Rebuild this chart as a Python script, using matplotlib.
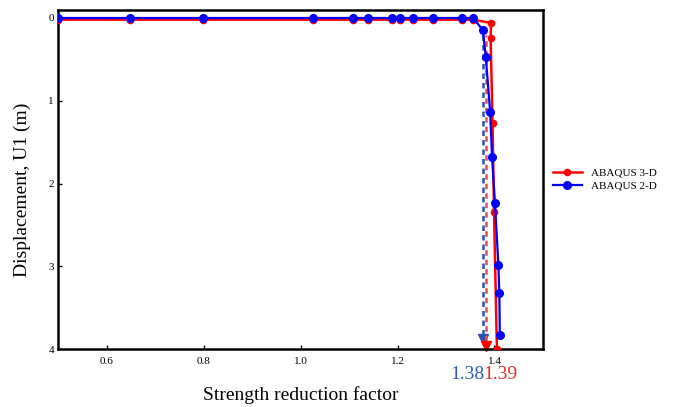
import matplotlib
matplotlib.use("Agg")
import matplotlib.pyplot as plt
import matplotlib.transforms as mtransforms

plt.rcParams['font.family'] = ['Liberation Serif', 'DejaVu Serif']

# ---------------- Data ---------------- #

# ABAQUS 2-D (blue)
x_2d = [0.5, 0.648, 0.798, 1.025, 1.108, 1.139, 1.188, 1.205, 1.232, 1.273, 1.332, 1.356,
        1.376, 1.382, 1.391, 1.395, 1.401, 1.408, 1.410, 1.411]
y_2d = [0, 0, 0, 0, 0, 0, 0, 0, 0, 0, 0, 0,
        0.145, 0.47, 1.13, 1.68, 2.24, 2.98, 3.32, 3.83]

# ABAQUS 3-D (red)
x_3d = [0.5, 0.648, 0.798, 1.025, 1.108, 1.139, 1.188, 1.205, 1.232, 1.273, 1.332, 1.356,
        1.393, 1.392, 1.396, 1.399, 1.405]
y_3d = [0.02, 0.02, 0.02, 0.02, 0.02, 0.02, 0.02, 0.02, 0.02, 0.02, 0.02, 0.02,
        0.06, 0.24, 1.27, 2.34, 4.0]

# failure factors (dashed arrows)
fs_2d = 1.376
fs_3d = 1.383
fs_labels = ["1.38", "1.39"]

xticks = [0.6, 0.8, 1.0, 1.2, 1.4]
yticks = [0, 1, 2, 3, 4]

# ---------------- Plot ---------------- #

fig = plt.figure(figsize=(6.83, 4.07), dpi=100)
ax = fig.add_axes([0.085, 0.1425, 0.71, 0.833])

ax.plot(x_3d, y_3d, color='red', lw=1.8, marker='o', ms=4.5, label='ABAQUS 3-D', zorder=3)
ax.plot(x_2d, y_2d, color='blue', lw=1.6, marker='o', ms=5.5, label='ABAQUS 2-D', zorder=4)

# dashed arrows down to the axis
ax.plot([fs_2d, fs_2d], [0.2, 3.88], color='#3050b0', ls=(0, (2.2, 1.6)), lw=1.8, zorder=2)
ax.plot([fs_2d], [3.88], color='#3050b0', marker='v', ms=7, zorder=2)
ax.plot([fs_3d, fs_3d], [0.2, 3.96], color='#e05050', ls=(1.5, (2.2, 1.6)), lw=1.8, zorder=2)
ax.plot([fs_3d], [3.96], color='red', marker='v', ms=7, zorder=2, clip_on=False)

trans = mtransforms.blended_transform_factory(ax.transData, ax.transAxes)
ax.text(1.343, -0.074, fs_labels[0], color='#2e5fae', fontsize=14, ha='center', va='center',
        transform=trans)
ax.text(1.411, -0.074, fs_labels[1], color='#e03030', fontsize=14, ha='center', va='center',
        transform=trans)

ax.set_xlim(0.5, 1.5)
ax.set_ylim(4, -0.097)
ax.set_xticks(xticks)
ax.set_xticklabels(["%.1f" % v for v in xticks])
ax.set_yticks(yticks)
ax.tick_params(direction='in', length=3, width=1, labelsize=8, pad=6)
ax.tick_params(axis='y', pad=3)
for s in ax.spines.values():
    s.set_linewidth(1.8)

ax.set_xlabel("Strength reduction factor", fontsize=14, labelpad=14)
ax.set_ylabel("Displacement, U1 (m)", fontsize=14)
ax.yaxis.set_label_coords(-0.056, 0.47)

ax.legend(loc='center left', bbox_to_anchor=(1.0, 0.5), frameon=False, fontsize=8,
          handlelength=2.6, handletextpad=0.8, labelspacing=0.3)

fig.savefig("out.png", dpi=100)
